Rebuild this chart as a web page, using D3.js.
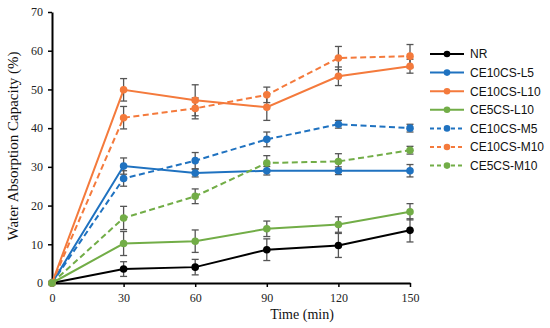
<!DOCTYPE html>
<html>
<head>
<meta charset="utf-8">
<script src="https://cdn.jsdelivr.net/npm/d3@7"></script>
<style>
body { margin: 0; background: white; }
svg text { font-weight: normal; }
</style>
</head>
<body>
<div class="chart"></div>
<script>
// time points (min)
let times = [0, 30, 60, 90, 120, 150];

let seriesNames = ["NR", "CE10CS-L5", "CE10CS-L10", "CE5CS-L10", "CE10CS-M5", "CE10CS-M10", "CE5CS-M10"];
let seriesColors = ["#000000", "#1F72C0", "#F47A3C", "#72AD47", "#1F72C0", "#F47A3C", "#72AD47"];
let seriesDashed = [false, false, false, false, true, true, true];

let nrVals   = [0, 3.6, 4.1, 8.6, 9.7, 13.6];
let nrErr    = [0, 1.9, 2.0, 2.8, 3.1, 3.0];
let l5Vals   = [0, 30.2, 28.4, 29.0, 29.0, 29.0];
let l5Err    = [0, 2.1, 1.0, 1.1, 1.0, 1.6];
let l10Vals  = [0, 49.9, 47.2, 45.4, 53.4, 56.0];
let l10Err   = [0, 2.9, 4.0, 3.4, 2.4, 1.8];
let c5l10Vals = [0, 10.2, 10.8, 14.0, 15.1, 18.4];
let c5l10Err  = [0, 3.1, 2.9, 2.0, 2.0, 2.1];
let m5Vals   = [0, 27.0, 31.6, 37.1, 41.0, 40.0];
let m5Err    = [0, 2.0, 2.1, 1.9, 1.0, 1.0];
let m10Vals  = [0, 42.7, 45.1, 48.6, 58.1, 58.6];
let m10Err   = [0, 2.9, 2.7, 2.0, 3.0, 3.0];
let c5m10Vals = [0, 16.8, 22.4, 31.0, 31.4, 34.3];
let c5m10Err  = [0, 3.0, 1.9, 1.9, 2.0, 1.0];

let allVals = [nrVals, l5Vals, l10Vals, c5l10Vals, m5Vals, m10Vals, c5m10Vals];
let allErr  = [nrErr, l5Err, l10Err, c5l10Err, m5Err, m10Err, c5m10Err];

let yTicks = [0, 10, 20, 30, 40, 50, 60, 70];

let serif = "'Times New Roman', 'Liberation Serif', serif";

let margin = {top: 12, left: 52};

let svg = d3.select(".chart")
    .append("svg")
    .attr("width", 550)
    .attr("height", 328);

let g = svg.append("g")
    .attr("transform", "translate(" + margin.left + "," + margin.top + ")");

let x = d3.scaleLinear().domain([0, 150]).range([0, 358]);
let y = d3.scaleLinear().domain([0, 70]).range([271, 0]);

// y axis
let yAxis = g.append("g")
    .call(d3.axisLeft(y).tickValues(yTicks).tickSize(4).tickSizeOuter(0));
yAxis.attr("font-family", serif);
yAxis.select(".domain").attr("stroke-width", 2);
yAxis.selectAll(".tick line").attr("stroke-width", 1.5);
yAxis.selectAll("text").attr("font-size", 12).style("font-family", serif).attr("fill", "#222").attr("x", -9);

// x axis
let xAxis = g.append("g")
    .attr("transform", "translate(0," + y(0) + ")")
    .call(d3.axisBottom(x).tickValues(times).tickSize(4).tickSizeOuter(0));
xAxis.attr("font-family", serif);
xAxis.select(".domain").attr("stroke-width", 2);
xAxis.selectAll(".tick line").attr("stroke-width", 1.5);
xAxis.selectAll("text").attr("font-size", 12).style("font-family", serif).attr("fill", "#222").attr("y", 10);

// axis titles
svg.append("text")
    .attr("transform", "translate(18,146) rotate(-90)")
    .attr("text-anchor", "middle")
    .style("font-family", serif)
    .attr("font-size", 15)
    .attr("fill", "#111")
    .text("Water Absorption Capacity (%)");

svg.append("text")
    .attr("x", 302)
    .attr("y", 319)
    .attr("text-anchor", "middle")
    .style("font-family", serif)
    .attr("font-size", 14)
    .attr("fill", "#111")
    .text("Time (min)");

let line = d3.line()
    .x(function(d, i) { return x(times[i]); })
    .y(function(d) { return y(d); });

// error bars first
for (let s = 0; s < allVals.length; s++) {
    let eb = g.append("g");
    allVals[s].forEach(function(v, i) {
        let e = allErr[s][i];
        if (e <= 0) return;
        let cx = x(times[i]);
        eb.append("line").attr("x1", cx).attr("x2", cx).attr("y1", y(v - e)).attr("y2", y(v + e))
            .attr("stroke", "#555").attr("stroke-width", 1.3);
        [v - e, v + e].forEach(function(ev) {
            eb.append("line").attr("x1", cx - 3.5).attr("x2", cx + 3.5).attr("y1", y(ev)).attr("y2", y(ev))
                .attr("stroke", "#555").attr("stroke-width", 1.3);
        });
    });
}

// lines and markers
for (let s = 0; s < allVals.length; s++) {
    g.append("path")
        .datum(allVals[s])
        .attr("d", line)
        .attr("fill", "none")
        .attr("stroke", seriesColors[s])
        .attr("stroke-width", 2)
        .attr("stroke-dasharray", seriesDashed[s] ? "6,3.5" : null);

    g.selectAll(null)
        .data(allVals[s])
        .enter()
        .append("circle")
        .attr("cx", function(d, i) { return x(times[i]); })
        .attr("cy", function(d) { return y(d); })
        .attr("r", 3.8)
        .attr("fill", s === 0 ? "#000" : seriesColors[s]);
}

// legend
let legend = svg.append("g")
    .attr("transform", "translate(430,54)");

seriesNames.forEach(function(name, i) {
    let row = legend.append("g").attr("transform", "translate(0," + (i * 18.6) + ")");
    row.append("line")
        .attr("x1", 0).attr("x2", 34).attr("y1", 0).attr("y2", 0)
        .attr("stroke", seriesColors[i])
        .attr("stroke-width", 2)
        .attr("stroke-dasharray", seriesDashed[i] ? "4,3" : null);
    row.append("circle").attr("cx", 17).attr("cy", 0).attr("r", 3.3).attr("fill", seriesColors[i]);
    row.append("text")
        .attr("x", 40)
        .attr("y", 4.3)
        .style("font-family", "'Liberation Sans', Arial, sans-serif")
        .attr("font-size", 12)
        .attr("fill", "#111")
        .text(name);
});
</script>
</body>
</html>
